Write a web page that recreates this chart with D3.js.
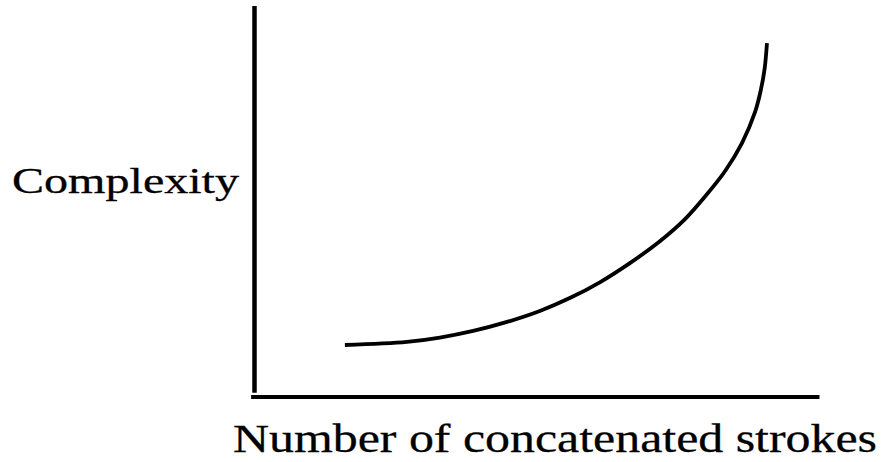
<!DOCTYPE html>
<html>
<head>
<meta charset="utf-8">
<script src="https://cdn.jsdelivr.net/npm/d3@7/dist/d3.min.js"></script>
<style>
  html, body { margin: 0; padding: 0; background: #fff; }
  svg { display: block; }
  text { font-family: "Liberation Serif", "Times New Roman", serif; fill: #000; stroke: #000; stroke-width: 0.3; }
</style>
</head>
<body>
<svg id="chart" width="883" height="462"></svg>
<script>
// Data (arbitrary units)
const strokes    = [16.0, 27.0, 32.8, 38.7, 44.7, 50.5, 55.8, 61.2, 66.5, 71.8, 76.2, 79.7, 83.3, 86.3, 88.6, 89.6, 90.3, 90.7];
const complexity = [13.3, 14.1, 15.2, 16.9, 19.2, 22.0, 25.3, 29.4, 34.3, 39.9, 45.5, 51.2, 57.8, 65.0, 72.9, 78.4, 84.1, 90.5];
const xLabel = "Number of concatenated strokes";
const yLabel = "Complexity";

const svg = d3.select("#chart");
const x = d3.scaleLinear().domain([0, 100]).range([254.5, 819.5]);
const y = d3.scaleLinear().domain([0, 100]).range([397, 6]);

// y axis line
svg.append("line")
  .attr("x1", x(0)).attr("x2", x(0))
  .attr("y1", y(100)).attr("y2", y(1.1))
  .attr("stroke", "#000").attr("stroke-width", 4.5);

// x axis line
svg.append("line")
  .attr("x1", x(-0.6)).attr("x2", x(100))
  .attr("y1", y(0)).attr("y2", y(0))
  .attr("stroke", "#000").attr("stroke-width", 4.2);

const pts = strokes.map((s, i) => [s, complexity[i]]);
const line = d3.line()
  .x(d => x(d[0]))
  .y(d => y(d[1]))
  .curve(d3.curveCatmullRom.alpha(0.5));

svg.append("path")
  .datum(pts)
  .attr("d", line)
  .attr("fill", "none")
  .attr("stroke", "#000")
  .attr("stroke-width", 3.8);

svg.append("text")
  .attr("x", 12).attr("y", 193)
  .attr("font-size", 36)
  .attr("textLength", 227)
  .attr("lengthAdjust", "spacingAndGlyphs")
  .text(yLabel);

svg.append("text")
  .attr("x", 233).attr("y", 452)
  .attr("font-size", 41)
  .attr("textLength", 644)
  .attr("lengthAdjust", "spacingAndGlyphs")
  .text(xLabel);
</script>
</body>
</html>
